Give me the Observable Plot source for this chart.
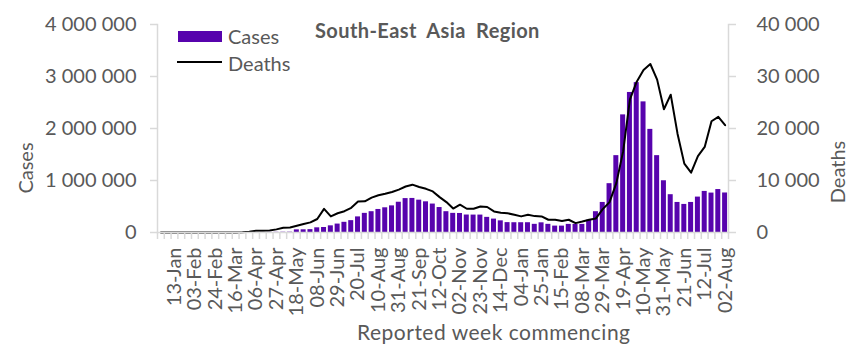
<!DOCTYPE html>
<html><head><meta charset="utf-8">
<script src="https://cdn.jsdelivr.net/npm/d3@7"></script>
<script src="https://cdn.jsdelivr.net/npm/@observablehq/plot@0.6"></script>
<style>
body{margin:0;background:#fff;}
#chart{position:relative;width:863px;height:361px;font-family:Lato,sans-serif;color:#595959;overflow:hidden;}
.ov{position:absolute;white-space:nowrap;font-size:20px;line-height:1;}
.rot{transform:translate(-50%,-50%) rotate(-90deg);}
</style></head><body><div id="chart"></div>
<script>
const weeks = ["30-Dec","06-Jan","13-Jan","20-Jan","27-Jan","03-Feb","10-Feb","17-Feb","24-Feb","02-Mar",
"09-Mar","16-Mar","23-Mar","30-Mar","06-Apr","13-Apr","20-Apr","27-Apr","04-May","11-May",
"18-May","25-May","01-Jun","08-Jun","15-Jun","22-Jun","29-Jun","06-Jul","13-Jul","20-Jul",
"27-Jul","03-Aug","10-Aug","17-Aug","24-Aug","31-Aug","07-Sep","14-Sep","21-Sep","28-Sep",
"05-Oct","12-Oct","19-Oct","26-Oct","02-Nov","09-Nov","16-Nov","23-Nov","30-Nov","07-Dec",
"14-Dec","21-Dec","28-Dec","04-Jan","11-Jan","18-Jan","25-Jan","01-Feb","08-Feb","15-Feb",
"22-Feb","01-Mar","08-Mar","15-Mar","22-Mar","29-Mar","05-Apr","12-Apr","19-Apr","26-Apr",
"03-May","10-May","17-May","24-May","31-May","07-Jun","14-Jun","21-Jun","28-Jun","05-Jul",
"12-Jul","19-Jul","26-Jul","02-Aug"];
const tickLabels = ["13-Jan","03-Feb","24-Feb","16-Mar","06-Apr","27-Apr","18-May","08-Jun","29-Jun","20-Jul",
"10-Aug","31-Aug","21-Sep","12-Oct","02-Nov","23-Nov","14-Dec","04-Jan","25-Jan","15-Feb",
"08-Mar","29-Mar","19-Apr","10-May","31-May","21-Jun","12-Jul","02-Aug"];
const cases = [0,0,0,0,0,0,0,0,0,0,
50,200,500,1000,1500,2000,3000,4000,5000,6000,
51000,52000,55000,90000,96000,128000,162000,196000,228000,300000,
368000,400000,443000,475000,512000,582000,652000,655000,622000,590000,
547000,480000,400000,368000,366000,336000,335000,335000,291000,258000,
224000,190000,188000,188000,188000,157000,186000,157000,123000,123000,
156000,156000,156000,237000,400000,578000,939000,1478000,2262000,2693000,
2882000,2512000,1983000,1478000,995000,727000,578000,540000,578000,681000,
790000,758000,826000,760000];
const deaths = [0,0,0,0,0,0,0,0,0,0,
5,20,60,150,350,350,400,600,900,980,
1300,1650,1950,2600,4550,3100,3700,4100,4750,5950,
6000,6700,7150,7450,7800,8250,8850,9200,8750,8400,
7900,6800,5850,4600,5350,4570,4570,5000,4900,4050,
3800,3700,3400,3100,3400,3150,3100,2450,2450,2200,
2450,1800,2100,2450,2700,4500,5850,9500,15600,25600,
29000,31250,32400,29400,23700,26500,19000,13250,11500,14700,
16450,21400,22250,20650];
const casesTicks = [0,1000000,2000000,3000000,4000000];
const deathsTicks = [0,10000,20000,30000,40000];
const title = "South-East Asia Region";

const ratio = casesTicks[casesTicks.length-1] / deathsTicks[deathsTicks.length-1];
const rows = weeks.map((w,i)=>({i, week:w, cases:cases[i], deaths:deaths[i]}));
const tickIdx = tickLabels.map(l => weeks.indexOf(l));
const fmt = d3.formatLocale({thousands:"\u00a0", grouping:[3], decimal:".", currency:["",""]}).format(",");
const grey = "#d9d9d9";

const plot = Plot.plot({
  width:863, height:361, marginLeft:157, marginRight:135, marginTop:24, marginBottom:129,
  style:{fontFamily:"Lato, sans-serif", fontSize:"20px", color:"#595959", background:"white", overflow:"visible"},
  x:{domain:[0, weeks.length]},
  y:{domain:[0, casesTicks[casesTicks.length-1]]},
  marks:[
    Plot.rectY(rows,{x1:"i", x2:d=>d.i+1, y:"cases", fill:"#5703ad", insetLeft:0.9, insetRight:0.9}),
    Plot.line(rows,{x:d=>d.i+0.5, y:d=>d.deaths*ratio, stroke:"black", strokeWidth:2}),
    Plot.frame({anchor:"left", stroke:grey, strokeWidth:1.5}),
    Plot.frame({anchor:"right", stroke:grey, strokeWidth:1.5}),
    Plot.frame({anchor:"bottom", stroke:grey, strokeWidth:1.5}),
    Plot.axisY({ticks:casesTicks, tickFormat:fmt, tickSize:7, tickPadding:14, stroke:grey, strokeWidth:1.5, label:null}),
    Plot.axisY({anchor:"right", ticks:deathsTicks.map(d=>d*ratio), tickFormat:d=>fmt(d/ratio), tickSize:7, tickPadding:21, textAnchor:"start", stroke:grey, strokeWidth:1.5, label:null}),
    Plot.axisX({ticks:d3.range(0, weeks.length+1), tickFormat:()=>"", tickSize:7, stroke:grey, strokeWidth:1.5, label:null}),
    Plot.axisX({ticks:tickIdx.map(i=>i+0.5), tickFormat:d=>weeks[Math.round(d-0.5)], tickRotate:-90, tickSize:0, tickPadding:15, label:null})
  ]
});
const chart = document.getElementById("chart");
chart.appendChild(plot);

function ov(html, css, cls){
  const d = document.createElement("div");
  d.className = "ov" + (cls ? " " + cls : "");
  d.innerHTML = html;
  Object.assign(d.style, css);
  chart.appendChild(d);
  return d;
}
ov(title, {left:"315px", top:"20px", fontWeight:"bold", fontSize:"20px", letterSpacing:"0.4px", wordSpacing:"5px"});
ov("", {left:"178px", top:"31px", width:"44px", height:"11px", background:"#5703ad"});
ov("Cases", {left:"228px", top:"26px"});
ov("", {left:"177px", top:"61px", width:"45px", height:"2px", background:"black"});
ov("Deaths", {left:"228px", top:"53px"});
ov("Cases", {left:"25px", top:"168px"}, "rot");
ov("Deaths", {left:"837px", top:"172px"}, "rot");
ov("Reported week commencing", {left:"357px", top:"321px", fontSize:"21px", letterSpacing:"0.5px"});
</script>
</body></html>
